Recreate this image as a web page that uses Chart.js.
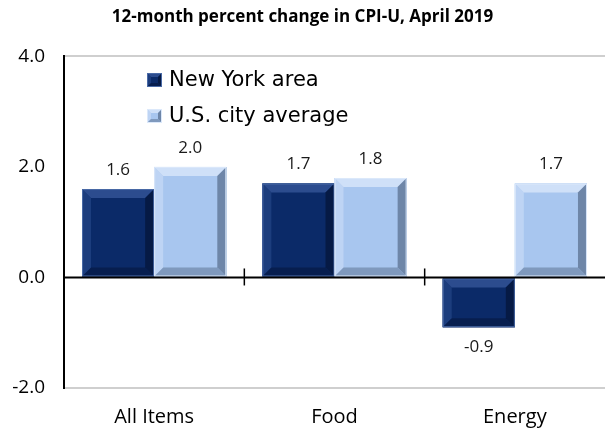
<!DOCTYPE html>
<html>
<head>
<meta charset="utf-8">
<script src="https://cdn.jsdelivr.net/npm/chart.js@4.4.0/dist/chart.umd.min.js"></script>
<style>
  html, body { margin: 0; padding: 0; background: #fff; }
  #wrap { width: 605px; height: 432px; }
</style>
</head>
<body>
<div id="wrap"><canvas id="cpi-chart" width="605" height="432"></canvas></div>
<script>
const categories = ['All Items', 'Food', 'Energy'];
const newYork = [1.6, 1.7, -0.9];
const usAverage = [2.0, 1.8, 1.7];
const seriesNames = ['New York area', 'U.S. city average'];
const yTicks = [-2.0, 0.0, 2.0, 4.0];

// face, light bevel, dark bevel
const palette = [
    { face: '#0b2a68', light: '#2c4c8e', dark: '#061a45', edge: '#4a6aa6' },
    { face: '#a8c6ef', light: '#cfe0f8', dark: '#6e86a8', edge: '#dbe8fa' }
];

function bevelRect(ctx, x0, y0, x1, y1, pal, b) {
    const w = x1 - x0, h = y1 - y0;
    b = Math.min(b, w / 2, h / 2);
    ctx.fillStyle = pal.face;
    ctx.fillRect(x0, y0, w, h);
    // top
    ctx.fillStyle = pal.light;
    ctx.beginPath();
    ctx.moveTo(x0, y0); ctx.lineTo(x1, y0); ctx.lineTo(x1 - b, y0 + b); ctx.lineTo(x0 + b, y0 + b);
    ctx.closePath(); ctx.fill();
    // left
    ctx.globalAlpha = 0.55;
    ctx.beginPath();
    ctx.moveTo(x0, y0); ctx.lineTo(x0 + b, y0 + b); ctx.lineTo(x0 + b, y1 - b); ctx.lineTo(x0, y1);
    ctx.closePath(); ctx.fill();
    ctx.globalAlpha = 1;
    // right
    ctx.fillStyle = pal.dark;
    ctx.beginPath();
    ctx.moveTo(x1, y0); ctx.lineTo(x1, y1); ctx.lineTo(x1 - b, y1 - b); ctx.lineTo(x1 - b, y0 + b);
    ctx.closePath(); ctx.fill();
    // bottom
    ctx.globalAlpha = 0.7;
    ctx.beginPath();
    ctx.moveTo(x0, y1); ctx.lineTo(x1, y1); ctx.lineTo(x1 - b, y1 - b); ctx.lineTo(x0 + b, y1 - b);
    ctx.closePath(); ctx.fill();
    ctx.globalAlpha = 1;
    ctx.strokeStyle = pal.edge;
    ctx.lineWidth = 1;
    ctx.strokeRect(x0 + 0.5, y0 + 0.5, w - 1, h - 1);
}

const bevelBars = {
    id: 'bevelBars',
    afterDatasetsDraw(chart) {
        const ctx = chart.ctx;
        ctx.save();
        chart.data.datasets.forEach((ds, di) => {
            chart.getDatasetMeta(di).data.forEach((bar, i) => {
                const p = bar.getProps(['x', 'y', 'base', 'width'], true);
                const x0 = p.x - p.width / 2, x1 = p.x + p.width / 2;
                const y0 = Math.min(p.y, p.base), y1 = Math.max(p.y, p.base);
                bevelRect(ctx, x0, y0, x1, y1, palette[di], 9);
                // value label
                const v = ds.data[i];
                ctx.fillStyle = '#1a1a1a';
                ctx.font = '17px "Open Sans", sans-serif';
                ctx.textAlign = 'center';
                ctx.textBaseline = 'middle';
                ctx.fillText(v.toFixed(1), p.x, v >= 0 ? y0 - 19 : y1 + 20);
            });
        });
        // zero axis line and crossing ticks
        const xs = chart.scales.x, ys = chart.scales.y;
        const y0 = ys.getPixelForValue(0);
        ctx.strokeStyle = '#000';
        ctx.lineWidth = 2;
        ctx.beginPath();
        ctx.moveTo(chart.chartArea.left, y0); ctx.lineTo(chart.chartArea.right, y0);
        ctx.stroke();
        ctx.lineWidth = 1.5;
        for (let i = 0; i < categories.length - 1; i++) {
            const bx = (xs.getPixelForValue(i) + xs.getPixelForValue(i + 1)) / 2;
            ctx.beginPath();
            ctx.moveTo(bx, y0 - 9); ctx.lineTo(bx, y0 + 8);
            ctx.stroke();
        }
        // legend inside plot
        ctx.font = '21px "DejaVu Sans", Verdana, sans-serif';
        ctx.textAlign = 'left';
        ctx.textBaseline = 'middle';
        const rows = [80, 116];
        seriesNames.forEach((name, k) => {
            bevelRect(ctx, 147, rows[k] - 7, 162, rows[k] + 7, palette[k], 4);
            ctx.fillStyle = '#000';
            ctx.fillText(name, 169, rows[k] + 1);
        });
        ctx.restore();
    }
};

new Chart(document.getElementById('cpi-chart'), {
    type: 'bar',
    data: {
        labels: categories,
        datasets: [
            { label: seriesNames[0], data: newYork, backgroundColor: palette[0].face },
            { label: seriesNames[1], data: usAverage, backgroundColor: palette[1].face }
        ]
    },
    options: {
        responsive: false,
        animation: false,
        layout: { padding: { right: 0, top: 0 } },
        datasets: { bar: { categoryPercentage: 0.8, barPercentage: 1.0 } },
        scales: {
            x: {
                grid: { display: false },
                border: { display: false },
                ticks: {
                    color: '#000',
                    padding: 9,
                    font: { family: '"Open Sans", sans-serif', size: 20 }
                },
                afterFit(scale) { scale.height = 44; }
            },
            y: {
                min: -2, max: 4,
                afterBuildTicks(scale) { scale.ticks = yTicks.map(v => ({ value: v })); },
                grid: {
                    drawTicks: false,
                    lineWidth: 2,
                    color: c => (c.tick && (c.tick.value === 4 || c.tick.value === -2)) ? '#cfcfcf' : 'rgba(0,0,0,0)'
                },
                border: { display: true, color: '#000', width: 2 },
                ticks: {
                    color: '#000',
                    padding: 19,
                    font: { family: '"Open Sans", sans-serif', size: 19 },
                    callback: v => v.toFixed(1)
                },
                afterFit(scale) { scale.width = 64; }
            }
        },
        plugins: {
            legend: { display: false },
            tooltip: { enabled: false },
            title: {
                display: true,
                text: '12-month percent change in CPI-U, April 2019',
                color: '#000',
                font: { family: '"Open Sans", sans-serif', size: 17, weight: 'bold' },
                padding: { top: 7, bottom: 29 }
            }
        }
    },
    plugins: [bevelBars]
});
</script>
</body>
</html>
